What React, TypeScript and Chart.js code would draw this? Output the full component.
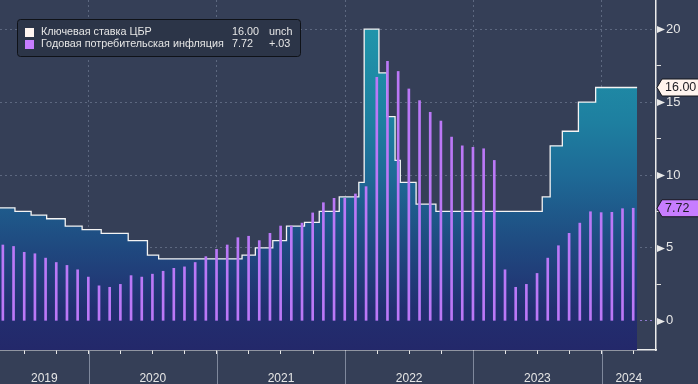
import { useEffect, useRef } from "react";
import { Chart, registerables } from "chart.js";

Chart.register(...registerables);

// ---- Data ----
const inflationMonths = [
  "2019-04", "2019-05", "2019-06", "2019-07", "2019-08", "2019-09", "2019-10", "2019-11", "2019-12",
  "2020-01", "2020-02", "2020-03", "2020-04", "2020-05", "2020-06", "2020-07", "2020-08", "2020-09", "2020-10", "2020-11", "2020-12",
  "2021-01", "2021-02", "2021-03", "2021-04", "2021-05", "2021-06", "2021-07", "2021-08", "2021-09", "2021-10", "2021-11", "2021-12",
  "2022-01", "2022-02", "2022-03", "2022-04", "2022-05", "2022-06", "2022-07", "2022-08", "2022-09", "2022-10", "2022-11", "2022-12",
  "2023-01", "2023-02", "2023-03", "2023-04", "2023-05", "2023-06", "2023-07", "2023-08", "2023-09", "2023-10", "2023-11", "2023-12",
  "2024-01", "2024-02", "2024-03",
];
const inflationValues = [
  5.2, 5.1, 4.7, 4.6, 4.3, 4.0, 3.8, 3.5, 3.0,
  2.4, 2.3, 2.5, 3.1, 3.0, 3.2, 3.4, 3.6, 3.7, 4.0, 4.4, 4.9,
  5.2, 5.7, 5.8, 5.5, 6.0, 6.5, 6.5, 6.7, 7.4, 8.1, 8.4, 8.4,
  8.7, 9.2, 16.7, 17.8, 17.1, 15.9, 15.1, 14.3, 13.7, 12.6, 12.0, 11.9,
  11.8, 11.0, 3.5, 2.3, 2.5, 3.25, 4.3, 5.15, 6.0, 6.7, 7.48, 7.42,
  7.44, 7.69, 7.72,
];

const keyRateDates = [
  "2019-03-01", "2019-06-04", "2019-07-20", "2019-09-03", "2019-10-26", "2019-12-13",
  "2020-02-06", "2020-04-22", "2020-06-16", "2020-07-18",
  "2021-03-12", "2021-04-19", "2021-06-08", "2021-07-17", "2021-09-07", "2021-10-19", "2021-12-15",
  "2022-02-09", "2022-02-23", "2022-04-06", "2022-04-28", "2022-05-22", "2022-06-06", "2022-07-21", "2022-09-16",
  "2023-07-15", "2023-08-07", "2023-09-11", "2023-10-27", "2023-12-15", "2024-04-11",
];
const keyRateValues = [
  7.75, 7.5, 7.25, 7.0, 6.5, 6.25,
  6.0, 5.5, 4.5, 4.25,
  4.5, 5.0, 5.5, 6.5, 6.75, 7.5, 8.5,
  9.5, 20, 17, 14, 11, 9.5, 8.0, 7.5,
  8.5, 12, 13, 15, 16, 16,
];

const yearLabels = ["2019", "2020", "2021", "2022", "2023", "2024"];
const yTickValues = [0, 2.5, 5, 7.5, 10, 12.5, 15, 17.5, 20];
const axisStartDate = "2019-04-22";
const axisEndDate = "2024-06-04";
const yMin = -2;
const yMax = 22;

const seriesNames = ["Ключевая ставка ЦБР", "Годовая потребительская инфляция"];

// ---- helpers ----
const BASE_YEAR = 2019;
function daysIn(y: number, m: number) {
  return new Date(y, m, 0).getDate();
}
function dateToIdx(s: string) {
  const [y, m, d] = s.split("-").map(Number);
  return (y - BASE_YEAR) * 12 + (m - 1) + (d - 1) / daysIn(y, m);
}
function monthEndIdx(s: string) {
  const [y, m] = s.split("-").map(Number);
  const dim = daysIn(y, m);
  return (y - BASE_YEAR) * 12 + (m - 1) + (dim - 1) / dim;
}

const BG = "#353f57";
const GRID = "#5d6880";
const BAR = "#bb78f7";
const TEXT = "#e6e6e6";
const FONT = "'Liberation Sans', Arial, sans-serif";

function fmtChange(d: number) {
  if (Math.abs(d) < 0.005) return "unch";
  const s = Math.abs(d).toFixed(2).replace(/^0/, "");
  return (d > 0 ? "+" : "-") + s;
}

function drawTag(ctx: CanvasRenderingContext2D, x0: number, py: number, text: string, fill: string, W: number) {
  const h = 8.5;
  ctx.save();
  ctx.beginPath();
  ctx.moveTo(x0, py);
  ctx.lineTo(x0 + 5, py - h);
  ctx.lineTo(W + 2, py - h);
  ctx.lineTo(W + 2, py + h);
  ctx.lineTo(x0 + 5, py + h);
  ctx.closePath();
  ctx.fillStyle = fill;
  ctx.fill();
  ctx.strokeStyle = "#15171c";
  ctx.lineWidth = 1;
  ctx.stroke();
  ctx.fillStyle = "#1b1b22";
  ctx.font = `12.5px ${FONT}`;
  ctx.textBaseline = "middle";
  ctx.textAlign = "left";
  ctx.fillText(text, x0 + 8, py + 0.5);
  ctx.restore();
}

const decoPlugin = {
  id: "deco",
  beforeDraw(chart: any) {
    const { ctx, width, height } = chart;
    ctx.save();
    ctx.fillStyle = BG;
    ctx.fillRect(0, 0, width, height);
    ctx.restore();
  },
  afterDraw(chart: any) {
    const { ctx, chartArea: area, width, height } = chart;
    const xs = chart.scales.x;
    const ys = chart.scales.y;
    ctx.save();
    // year separators under the axis
    ctx.strokeStyle = "#7f889c";
    ctx.lineWidth = 1;
    for (let i = 1; i < yearLabels.length; i++) {
      const px = Math.round(xs.getPixelForValue(i * 12)) + 0.5;
      ctx.beginPath();
      ctx.moveTo(px, area.bottom + 1);
      ctx.lineTo(px, height);
      ctx.stroke();
    }
    // triangles at major y ticks
    ctx.fillStyle = "#e8e8e8";
    yTickValues.filter((v) => v % 5 === 0).forEach((v) => {
      const py = Math.round(ys.getPixelForValue(v)) + 0.5;
      ctx.beginPath();
      ctx.moveTo(area.right + 1, py - 3.5);
      ctx.lineTo(area.right + 9, py);
      ctx.lineTo(area.right + 1, py + 3.5);
      ctx.closePath();
      ctx.fill();
    });
    ctx.restore();

    const lastRate = keyRateValues[keyRateValues.length - 1];
    const prevRate = keyRateValues[keyRateValues.length - 2];
    const lastInf = inflationValues[inflationValues.length - 1];
    const prevInf = inflationValues[inflationValues.length - 2];
    drawTag(ctx, area.right + 1, ys.getPixelForValue(lastRate), lastRate.toFixed(2), "#fff4ee", width);
    drawTag(ctx, area.right + 1, ys.getPixelForValue(lastInf), lastInf.toFixed(2), "#c77dff", width);

    // legend
    ctx.save();
    ctx.beginPath();
    (ctx as any).roundRect(17.5, 19.5, 283, 37, 3);
    ctx.fillStyle = "#2c3548";
    ctx.fill();
    ctx.strokeStyle = "#0f1218";
    ctx.lineWidth = 1;
    ctx.stroke();
    const rows = [
      { name: seriesNames[0], color: "#fff5f0", val: lastRate.toFixed(2), chg: fmtChange(lastRate - prevRate) },
      { name: seriesNames[1], color: "#c77dff", val: lastInf.toFixed(2), chg: fmtChange(lastInf - prevInf) },
    ];
    ctx.font = `10.8px ${FONT}`;
    ctx.textBaseline = "middle";
    ctx.textAlign = "left";
    rows.forEach((r, i) => {
      const cy = 32.5 + i * 12;
      ctx.fillStyle = r.color;
      ctx.fillRect(25, cy - 4.5, 9, 9);
      ctx.fillStyle = TEXT;
      ctx.fillText(r.name, 41, cy);
      ctx.fillText(r.val, 232, cy);
      ctx.fillText(r.chg, 269, cy);
    });
    ctx.restore();
  },
};

export default function App() {
  const ref = useRef<HTMLCanvasElement | null>(null);

  useEffect(() => {
    document.body.style.margin = "0";
    const canvas = ref.current;
    if (!canvas) return;

    const barData = inflationMonths.map((m, i) => ({ x: monthEndIdx(m), y: inflationValues[i] }));
    const lineData = keyRateDates.map((d, i) => ({ x: dateToIdx(d), y: keyRateValues[i] }));
    const xMin = dateToIdx(axisStartDate);
    const xMax = dateToIdx(axisEndDate);

    const chart = new Chart(canvas, {
      type: "bar",
      data: {
        datasets: [
          {
            type: "line",
            label: seriesNames[0],
            data: lineData,
            stepped: true,
            borderColor: "#f4f4f4",
            borderWidth: 1.3,
            pointRadius: 0,
            fill: "start",
            backgroundColor: (c: any) => {
              const { ctx, chartArea } = c.chart;
              if (!chartArea) return "#1e6a96";
              const g = ctx.createLinearGradient(0, chartArea.top, 0, chartArea.bottom);
              g.addColorStop(0, "#2299ae");
              g.addColorStop(0.15, "#1f90a8");
              g.addColorStop(0.35, "#1e7fa0");
              g.addColorStop(0.5, "#1e6a96");
              g.addColorStop(0.7, "#1f4a80");
              g.addColorStop(0.88, "#222f70");
              g.addColorStop(1, "#23286a");
              return g;
            },
            order: 2,
          } as any,
          {
            type: "bar",
            label: seriesNames[1],
            data: barData,
            backgroundColor: BAR,
            barThickness: 2,
            borderWidth: 0,
            order: 1,
          } as any,
        ],
      },
      options: {
        responsive: false,
        animation: false,
        events: [],
        layout: { padding: 0 },
        plugins: { legend: { display: false }, tooltip: { enabled: false } },
        scales: {
          x: {
            type: "linear",
            offset: false,
            min: xMin,
            max: xMax,
            position: "bottom",
            afterBuildTicks: (s: any) => {
              const t: any[] = [];
              for (let q = 0; q <= 72; q += 3) {
                if (q > s.min && q < s.max) t.push({ value: q, boundary: q % 12 === 0 });
              }
              yearLabels.forEach((yr, i) => {
                const a = Math.max(i * 12, s.min);
                const b = Math.min((i + 1) * 12, s.max);
                if (b > a) t.push({ value: (a + b) / 2, yr });
              });
              t.sort((p, q) => p.value - q.value);
              s.ticks = t;
            },
            afterFit: (s: any) => {
              s.height = 34;
              s.paddingLeft = 0;
              s.paddingRight = 0;
            },
            ticks: {
              autoSkip: false,
              maxRotation: 0,
              minRotation: 0,
              padding: 17,
              color: TEXT,
              font: { family: FONT, size: 12 },
              callback: (_v: any, i: number, ticks: any[]) => (ticks[i] && ticks[i].yr) || "",
            },
            grid: {
              offset: false,
              color: (c: any) => (c.tick && c.tick.boundary ? GRID : "rgba(0,0,0,0)"),
              tickColor: (c: any) => (c.tick && c.tick.yr ? "rgba(0,0,0,0)" : "#e8e8e8"),
              tickLength: 4,
              lineWidth: 1,
            },
            border: { display: true, color: "#ececec", width: 1.5, dash: [2, 3] },
          },
          y: {
            type: "linear",
            position: "right",
            min: yMin,
            max: yMax,
            afterBuildTicks: (s: any) => {
              s.ticks = yTickValues.map((v) => ({ value: v }));
            },
            afterFit: (s: any) => {
              s.width = 42;
              s.paddingTop = 0;
              s.paddingBottom = 0;
            },
            ticks: {
              padding: 5,
              color: TEXT,
              font: { family: FONT, size: 13 },
              callback: (v: any) => (v % 5 === 0 ? String(v) : ""),
            },
            grid: {
              color: (c: any) => {
                const v = c.tick ? c.tick.value : 1;
                if (v % 5 !== 0) return "rgba(0,0,0,0)";
                return v === 0 ? "#8c78cc" : GRID;
              },
              tickColor: (c: any) => (c.tick && c.tick.value % 5 !== 0 ? "#e0e0e0" : "rgba(0,0,0,0)"),
              tickLength: 5,
              lineWidth: 1,
            },
            border: { display: true, color: "#ececec", width: 1.5, dash: [2, 3] },
          },
        },
      },
      plugins: [decoPlugin],
    });

    return () => chart.destroy();
  }, []);

  return (
    <div style={{ width: 698, height: 384 }}>
      <canvas ref={ref} width={698} height={384} style={{ display: "block", width: 698, height: 384 }} />
    </div>
  );
}
